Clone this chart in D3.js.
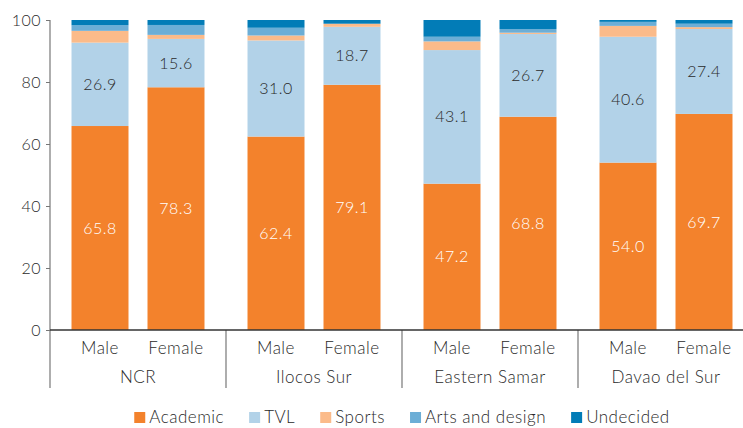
<html>
<head>
<meta charset="utf-8">
<title>Preferred senior high school track by sex and region</title>
<style>
  body {margin: 0; background: #fff;}
  svg {display: block; font-family: Lato, "Open Sans", sans-serif; font-weight: 300; letter-spacing: 0.5px;}
  .tick text {fill: #2a2a2a; font-size: 16px;}
</style>
</head>
<body>
<svg></svg>
<script src="https://d3js.org/d3.v7.min.js"></script>
<script>
const regions = ["NCR", "Ilocos Sur", "Eastern Samar", "Davao del Sur"];
const sexes = ["Male", "Female"];
const tracks = ["Academic", "TVL", "Sports", "Arts and design", "Undecided"];
// one value per bar, in order NCR M, NCR F, Ilocos M, Ilocos F, ...
const academic = [65.8, 78.3, 62.4, 79.1, 47.2, 68.8, 54.0, 69.7];
const tvl = [26.9, 15.6, 31.0, 18.7, 43.1, 26.7, 40.6, 27.4];
const sports = [3.8, 1.3, 1.6, 1.0, 2.8, 0.4, 3.5, 0.6];
const arts = [1.8, 3.2, 2.5, 0.0, 1.5, 1.2, 1.3, 1.1];
const undecided = [1.7, 1.6, 2.5, 1.2, 5.4, 2.9, 0.6, 1.2];
const yTicks = [0, 20, 40, 60, 80, 100];

const colors = ["#f3822c", "#b2d2e8", "#fbbb8a", "#6caed6", "#027cb7"];

let width = 743, height = 428;
let margin = {left: 50, top: 20, bottom: 98};
let plotRight = 754;
let textColor = "#2a2a2a";

let svg = d3.select("svg").attr("width", width).attr("height", height);

let rows = [];
regions.forEach((r, i) => {
  sexes.forEach((s, j) => {
    let k = i * 2 + j;
    rows.push({region: r, sex: s, Academic: academic[k], TVL: tvl[k], Sports: sports[k],
      "Arts and design": arts[k], Undecided: undecided[k]});
  });
});

let x0 = d3.scaleBand().domain(regions).range([margin.left, plotRight]);
let x1 = d3.scaleBand().domain(sexes).range([0, x0.bandwidth()])
  .paddingInner(0.25).paddingOuter(0.283);
let y = d3.scaleLinear().domain([0, 100]).range([height - margin.bottom, margin.top]);
let color = d3.scaleOrdinal().domain(tracks).range(colors);

let stacked = d3.stack().keys(tracks)(rows);

svg.append("g")
  .selectAll("g")
  .data(stacked)
  .join("g")
  .attr("fill", d => color(d.key))
  .selectAll("rect")
  .data(d => d)
  .join("rect")
  .attr("x", d => x0(d.data.region) + x1(d.data.sex))
  .attr("width", x1.bandwidth())
  .attr("y", d => y(d[1]))
  .attr("height", d => y(d[0]) - y(d[1]));

// data labels for the two big segments
stacked.slice(0, 2).forEach((layer, li) => {
  svg.append("g")
    .selectAll("text")
    .data(layer)
    .join("text")
    .attr("x", d => x0(d.data.region) + x1(d.data.sex) + x1.bandwidth() / 2)
    .attr("y", d => y((d[0] + d[1]) / 2))
    .attr("dy", "0.35em")
    .attr("text-anchor", "middle")
    .attr("font-size", 16)
    .attr("fill", li == 0 ? "#fff" : textColor)
    .text(d => d3.format(".1f")(d[1] - d[0]));
});

// y axis
let yAxis = svg.append("g")
  .attr("transform", "translate(" + margin.left + ",0)")
  .call(d3.axisLeft(y).tickValues(yTicks).tickSize(4).tickPadding(5));
yAxis.select(".domain").remove();
yAxis.selectAll(".tick line").attr("stroke", "#777");
yAxis.selectAll(".tick text").attr("font-family", "Lato, sans-serif");

let axisBottom = y(0);
let sepBottom = axisBottom + 58;

svg.append("line")
  .attr("x1", margin.left).attr("x2", margin.left)
  .attr("y1", y(100)).attr("y2", sepBottom)
  .attr("stroke", "#777").attr("stroke-width", 1.2);

// group separators
svg.append("g")
  .selectAll("line")
  .data(regions.slice(1))
  .join("line")
  .attr("x1", d => x0(d)).attr("x2", d => x0(d))
  .attr("y1", axisBottom).attr("y2", sepBottom)
  .attr("stroke", "#777").attr("stroke-width", 1.2);

svg.append("line")
  .attr("x1", margin.left).attr("x2", plotRight)
  .attr("y1", axisBottom).attr("y2", axisBottom)
  .attr("stroke", "#333").attr("stroke-width", 1.5);

// category labels
svg.append("g")
  .selectAll("text")
  .data(rows)
  .join("text")
  .attr("x", d => x0(d.region) + x1(d.sex) + x1.bandwidth() / 2)
  .attr("y", axisBottom + 24)
  .attr("text-anchor", "middle")
  .attr("font-size", 17)
  .attr("fill", textColor)
  .text(d => d.sex);

svg.append("g")
  .selectAll("text")
  .data(regions)
  .join("text")
  .attr("x", d => x0(d) + x0.bandwidth() / 2)
  .attr("y", axisBottom + 53)
  .attr("text-anchor", "middle")
  .attr("font-size", 17)
  .attr("fill", textColor)
  .text(d => d);

// legend
let legend = svg.append("g");
let lx = 0;
let gap = 25;
tracks.forEach((t, i) => {
  let item = legend.append("g").attr("transform", "translate(" + lx + ",0)");
  item.append("rect").attr("x", 0).attr("y", -11).attr("width", 11).attr("height", 11)
    .attr("fill", color(t));
  let txt = item.append("text").attr("x", 15).attr("y", 0)
    .attr("font-size", 17).attr("fill", textColor).text(t);
  lx += 15 + txt.node().getComputedTextLength() + gap;
});
lx -= gap;
legend.attr("transform", "translate(" + ((margin.left + plotRight) / 2 - lx / 2) + "," + (height - 5) + ")");
</script>
</body>
</html>
